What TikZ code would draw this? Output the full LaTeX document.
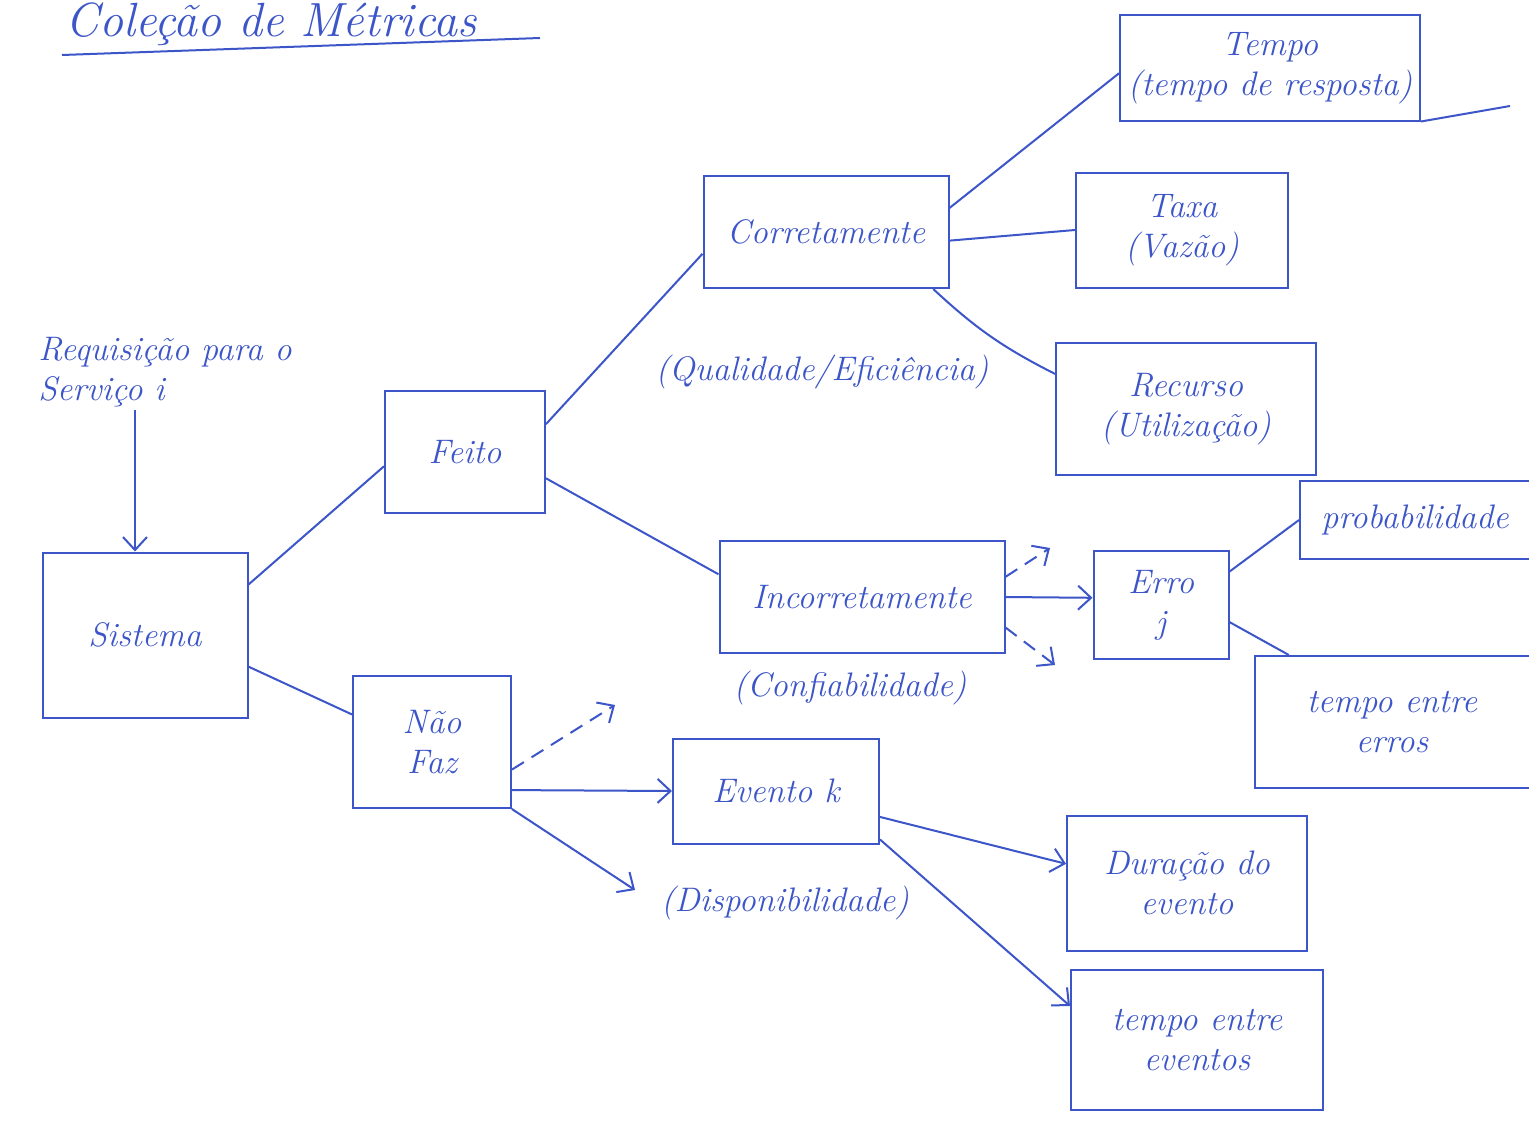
\documentclass[tikz,border=0pt]{standalone}
\usepackage{fontspec}
\usetikzlibrary{arrows.meta}
\definecolor{ink}{RGB}{60,85,200}
\begin{document}
\begin{tikzpicture}[x=1pt,y=-1pt,
  every node/.style={text=ink,font=\fontsize{34}{40}\selectfont\itshape},
  box/.style={draw=ink,line width=2pt,align=center,inner sep=0pt},
  conn/.style={draw=ink,line width=2pt},
  arr/.style={conn,-{Straight Barb[length=13pt,width=24pt,line width=2pt]}},
  darr/.style={arr,dash pattern=on 14pt off 9pt},
  lbl/.style={align=center}]
\useasboundingbox[fill=white] (0,0) rectangle (1529,1124);
% title
\node[anchor=base west,font=\fontsize{48}{54}\selectfont\itshape] (title) at (62,37) {Coleção de Métricas};
\draw[conn] (62,55) -- (540,38);
% boxes
\node[box,minimum width=205pt,minimum height=165pt] (sis) at (145,635) {Sistema};
\node[box,minimum width=160pt,minimum height=122pt] (feito) at (465,452) {Feito};
\node[box,minimum width=158pt,minimum height=132pt] (naofaz) at (432,742) {Não\\Faz};
\node[box,minimum width=245pt,minimum height=112pt] (corr) at (826,232) {Corretamente};
\node[box,minimum width=285pt,minimum height=112pt] (incorr) at (862,597) {Incorretamente};
\node[box,minimum width=206pt,minimum height=105pt] (evento) at (776,791) {Evento k};
\node[box,minimum width=300pt,minimum height=105pt] (tempo) at (1270,68) {Tempo\\(tempo de resposta)};
\node[box,minimum width=212pt,minimum height=115pt] (taxa) at (1182,230) {Taxa\\(Vazão)};
\node[box,minimum width=260pt,minimum height=132pt] (recurso) at (1186,409) {Recurso\\(Utilização)};
\node[box,minimum width=135pt,minimum height=108pt] (erro) at (1161,605) {Erro\\j};
\node[box,minimum width=230pt,minimum height=78pt] (prob) at (1415,520) {probabilidade};
\node[box,minimum width=275pt,minimum height=132pt] (teerros) at (1392,722) {tempo entre\\erros};
\node[box,minimum width=240pt,minimum height=135pt] (duracao) at (1187,883) {Duração do\\evento};
\node[box,minimum width=252pt,minimum height=140pt] (teeventos) at (1197,1040) {tempo entre\\eventos};
% labels
\node[align=left] (req) at (165,372) {Requisição para o\\Serviço i};
\node[lbl] (qual) at (822,372) {(Qualidade/Eficiência)};
\node[lbl] (conf) at (850,688) {(Confiabilidade)};
\node[lbl] (disp) at (785,903) {(Disponibilidade)};
% free ends
\coordinate (iu) at (1050,548);
\coordinate (id) at (1055,665);
\coordinate (nu) at (615,705);
\coordinate (nd) at (635,890);
\coordinate (tx) at (1510,106);
% connectors
\draw[arr] ([xshift=-30pt]req.south) -- ([xshift=-10pt]sis.north);
\draw[conn] (sis.26) -- (feito.190);
\draw[conn] (sis.-17) -- (naofaz.161);
\draw[conn] (feito.19) -- (corr.190);
\draw[conn] (feito.-18) -- (incorr.171);
\draw[conn] (corr.11) -- (tempo.182);
\draw[conn] (corr.-4) -- (taxa.west);
\draw[conn] (corr.-28) to[bend right=8] (recurso.165);
\draw[conn] (tempo.south east) -- (tx);
\draw[arr] (incorr.east) -- (erro.174);
\draw[darr] (incorr.8) -- (iu);
\draw[darr] (incorr.-12) -- (id);
\draw[conn] (erro.26) -- (prob.west);
\draw[conn] (erro.-14) -- (teerros.147);
\draw[arr] (naofaz.-31) -- (evento.west);
\draw[darr] (naofaz.-19) -- (nu);
\draw[arr] (naofaz.-40) -- (nd);
\draw[arr] (evento.-14) -- (duracao.171);
\draw[arr] (evento.-25) -- (teeventos.165);
\end{tikzpicture}
\end{document}
